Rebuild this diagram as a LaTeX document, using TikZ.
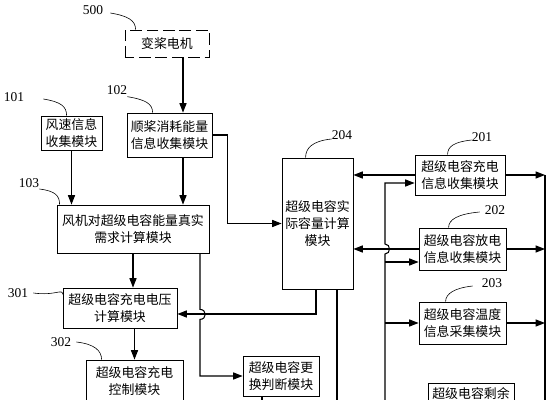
\documentclass[tikz,border=0pt]{standalone}
\usepackage{fontspec}
\setmainfont{Liberation Serif}
\newfontfamily\cjk{Noto Sans CJK SC}
\usetikzlibrary{arrows.meta,calc}

\tikzset{
  module/.style={draw, line width=0.7pt, align=center, inner sep=1pt,
    font=\cjk\fontsize{11}{14.5}\selectfont},
  arr/.style={line width=0.9pt, -{Triangle[length=8pt,width=6pt]}},
  wire/.style={line width=0.9pt},
  tag/.style={inner sep=0pt, font=\fontsize{11.5}{13}\selectfont},
  leader/.style={line width=0.5pt},
}

\begin{document}
\begin{tikzpicture}[x=0.03cm, y=-0.03cm]
  \useasboundingbox (0,0) rectangle (548,400);
  \clip (0,0) rectangle (548,400);

  % Modules
  \node[module, dash pattern=on 10pt off 4pt, dash phase=2pt, minimum width=2.52cm, minimum height=0.81cm] (motor) at (167,43.5) {变桨电机};
  \node[module, minimum width=1.83cm, minimum height=1.02cm] (speed) at (71.5,133) {风速信息\\收集模块};
  \node[module, minimum width=2.55cm, minimum height=1.32cm] (feather) at (169.5,135) {顺桨消耗能量\\信息收集模块};
  \node[module, minimum width=4.56cm, minimum height=1.44cm] (demand) at (133,229) {风机对超级电容能量真实\\需求计算模块};
  \node[module, minimum width=3.42cm, minimum height=1.2cm] (volt) at (120,308) {超级电容充电电压\\计算模块};
  \node[module, minimum width=2.91cm, minimum height=1.26cm] (ctrl) at (134.5,381) {超级电容充电\\控制模块};
  \node[module, minimum width=2.28cm, minimum height=1.2cm] (replace) at (281,376) {超级电容更\\换判断模块};
  \node[module, minimum width=2.13cm, minimum height=3.93cm] (actual) at (317.5,223.5) {超级电容实\\际容量计算\\模块};
  \node[module, minimum width=2.7cm, minimum height=1.2cm] (charge) at (460,175) {超级电容充电\\信息收集模块};
  \node[module, minimum width=2.61cm, minimum height=1.26cm] (discharge) at (462.5,249) {超级电容放电\\信息收集模块};
  \node[module, minimum width=2.61cm, minimum height=1.26cm] (temp) at (462.5,323) {超级电容温度\\信息采集模块};
  \node[module, minimum width=2.58cm, minimum height=1.26cm] (remain) at (471,404) {超级电容剩余\\\strut};

  % Reference numbers
  \node[tag] (n500) at (93,10) {500};
  \node[tag] (n101) at (14,97) {101};
  \node[tag] (n102) at (117,90) {102};
  \node[tag] (n103) at (29,183) {103};
  \node[tag] (n301) at (18,293) {301};
  \node[tag] (n302) at (61,342) {302};
  \node[tag] (n204) at (342,135) {204};
  \node[tag] (n201) at (482,137) {201};
  \node[tag] (n202) at (495,210) {202};
  \node[tag] (n203) at (492,283) {203};

  \draw[leader] ([xshift=0.21cm,yshift=-0.09cm]n500.east) .. controls +(18,3) and +(0,-9) .. ([xshift=0.33cm]motor.north west);
  \draw[leader] ([xshift=0.57cm,yshift=-0.06cm]n101.east) .. controls +(18,3) and +(0,-9) .. ([xshift=0.78cm]speed.north west);
  \draw[leader] ([yshift=-0.2cm]n102.east) .. controls +(18,3) and +(0,-9) .. ([xshift=0.78cm]feather.north west);
  \draw[leader] ([yshift=-0.18cm]n103.east) .. controls +(16,2) and +(0,-9) .. ([xshift=0.09cm]demand.north west);
  \draw[leader] ([xshift=0.15cm]n301.east) .. controls +(22,3) and +(0,-6) .. ([yshift=-0.2cm]volt.north west);
  \draw[leader] ([xshift=0.15cm]n302.east) .. controls +(18,2) and +(0,-9) .. ([xshift=0.48cm]ctrl.north west);
  \draw[leader] ([yshift=-0.12cm]n204.west) .. controls +(-20,2) and +(0,-9) .. ([xshift=0.72cm]actual.north west);
  \draw[leader] ([yshift=-0.09cm]n201.west) .. controls +(-18,2) and +(0,-8) .. ([xshift=0.99cm]charge.north west);
  \draw[leader] ([xshift=-0.15cm,yshift=-0.06cm]n202.west) .. controls +(-22,2) and +(0,-8) .. ([xshift=0.9cm]discharge.north west);
  \draw[leader] ([xshift=-0.27cm,yshift=-0.09cm]n203.west) .. controls +(-18,2) and +(0,-8) .. ([xshift=0.81cm]temp.north west);

  % Left column
  \coordinate (fx) at (183,0);
  \draw[arr] (motor.south -| fx) -- (feather.north -| fx);
  \draw[arr] (speed.south) -- (speed.south |- demand.north);
  \draw[arr] (feather.south -| fx) -- (demand.north -| fx);
  \draw[arr] (feather.east) -- ++(15,0) |- (actual.west);
  \draw[arr] (demand.south) -- (demand.south |- volt.north);
  \draw[arr] ([xshift=2.01cm]demand.south) -- ++(0,56) .. controls +(7,0) and +(7,0) .. ++(0,10) |- (replace.west);
  \draw[arr] ([xshift=-0.045cm]actual.south) |- ([yshift=-0.18cm]volt.east);
  \draw[arr] (volt.south -| ctrl.north) -- (ctrl.north);
  \draw[wire] ([xshift=-0.57cm]replace.south) -- ++(0,30);
  \draw[wire] ([xshift=0.585cm]actual.south) -- ++(0,130);

  % Right column
  \coordinate (ltop) at (385,183);
  \coordinate (lbot) at (385,410);
  \coordinate (rtop) at (545,175);
  \coordinate (rbot) at (545,410);
  \draw[arr] (charge.west) -- (charge.west -| actual.east);
  \draw[arr] (discharge.west) -- (discharge.west -| actual.east);
  \draw[arr] (lbot) -- ($(ltop |- discharge.west)+(0,5)$) .. controls +(6,0) and +(6,0) .. ++(0,-10) -- (ltop) -- (ltop -| charge.west);
  \draw[arr] ($(ltop |- discharge.west)+(0,13)$) -- ($(discharge.west)+(0,13)$);
  \draw[arr] (ltop |- temp.west) -- (temp.west);
  \draw[wire] (rtop) -- (rbot);
  \draw[arr] (charge.east) -- (charge.east -| rtop);
  \draw[arr] (discharge.east) -- (discharge.east -| rtop);
  \draw[arr] (temp.east) -- (temp.east -| rtop);
\end{tikzpicture}
\end{document}
